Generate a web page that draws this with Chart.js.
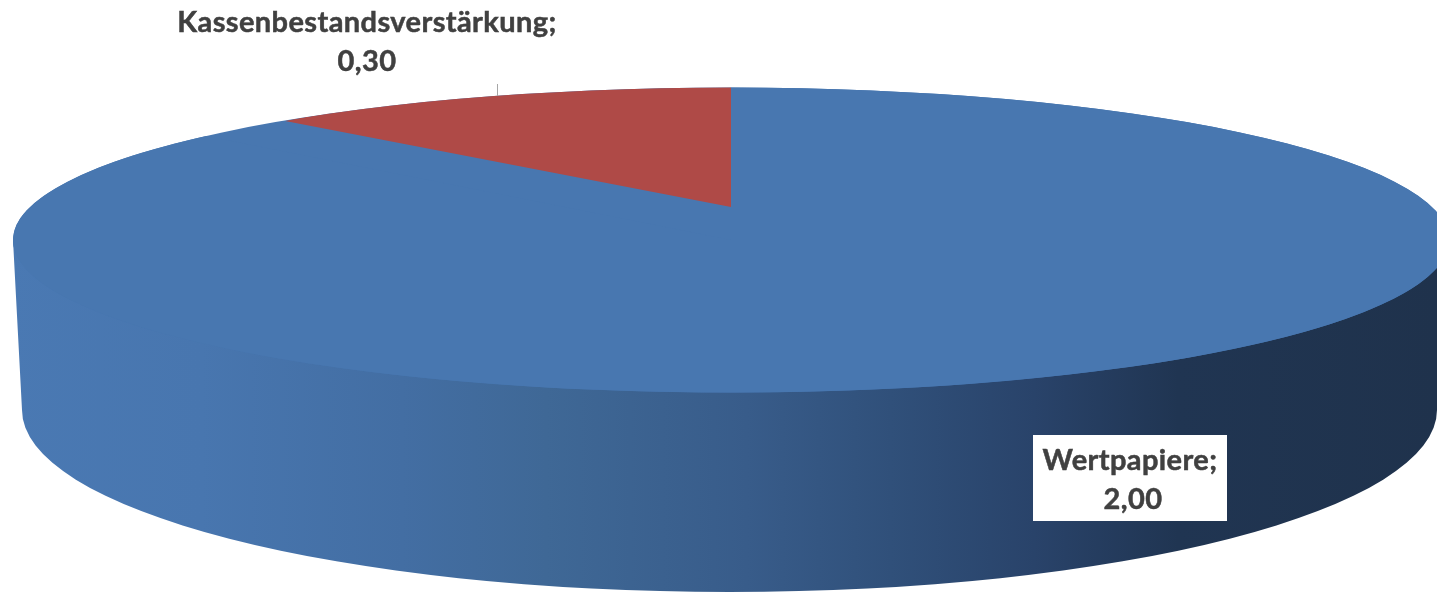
<!DOCTYPE html>
<html lang="de">
<head>
<meta charset="utf-8">
<title>Kreisdiagramm</title>
<script src="https://cdn.jsdelivr.net/npm/chart.js@4"></script>
<style>
  html, body { margin: 0; padding: 0; background: #fff; overflow: hidden; }
  canvas { display: block; }
</style>
</head>
<body>
<canvas id="pieChart" width="1437" height="593"></canvas>
<script>
const categories = ['Wertpapiere', 'Kassenbestandsverstärkung'];
const values = [2.00, 0.30];
const sliceColors = ['#4877B0', '#AF4A47'];

// top face of the disc, seen in perspective
const topFace = { x: 731, y: 240, rx: 718, ry: 152.5 };
const bottomFace = { x: 729.5, y: 410, rx: 707.5, ry: 182 };
// the slices meet here, not in the middle of the ellipse
const apex = { x: 731, y: 207 };

const wallStops = [
  [0, '#4A79B3'], [0.14, '#4876AF'], [0.28, '#436EA3'], [0.38, '#3F6896'],
  [0.52, '#385C8A'], [0.62, '#30507A'], [0.72, '#29436A'], [0.82, '#203552'], [1, '#1F324C']
];

const labelFont = 'bold 29px Lato, "Open Sans", sans-serif';

function formatValue(v) {
  return v.toFixed(2).replace('.', ',');
}

function topFacePath(ctx) {
  ctx.beginPath();
  ctx.ellipse(topFace.x, topFace.y, topFace.rx, topFace.ry, 0, 0, Math.PI * 2);
}

function drawWall(ctx) {
  const grad = ctx.createLinearGradient(0, 0, 1437, 0);
  wallStops.forEach(s => grad.addColorStop(s[0], s[1]));
  ctx.fillStyle = grad;
  ctx.beginPath();
  ctx.moveTo(topFace.x - topFace.rx, topFace.y);
  ctx.lineTo(bottomFace.x - bottomFace.rx, bottomFace.y);
  ctx.ellipse(bottomFace.x, bottomFace.y, bottomFace.rx, bottomFace.ry, 0, Math.PI, 0, true);
  ctx.lineTo(topFace.x + topFace.rx, topFace.y);
  ctx.closePath();
  ctx.fill();
}

function drawLabel(ctx, text, x, y) {
  ctx.strokeText(text, x, y);
  ctx.fillText(text, x, y);
}

const disc3d = {
  id: 'disc3d',
  beforeDatasetDraw(chart) {
    const ctx = chart.ctx;
    const [blue, red] = chart.getDatasetMeta(0).data;
    const R = blue.outerRadius;

    ctx.save();
    drawWall(ctx);
    topFacePath(ctx);
    ctx.fillStyle = sliceColors[0];
    ctx.fill();

    // big slice squeezed onto the ellipse
    ctx.save();
    ctx.transform(topFace.rx / R, 0, 0, topFace.ry / R, topFace.x, topFace.y);
    ctx.translate(-blue.x, -blue.y);
    blue.draw(ctx);
    ctx.restore();

    // small slice: own skew so that it starts at the apex
    ctx.save();
    topFacePath(ctx);
    ctx.clip();
    ctx.transform(610 / R, 5.7 / R, 0, 120 / R, apex.x, apex.y);
    ctx.translate(-red.x, -red.y);
    red.draw(ctx);
    ctx.restore();
    ctx.restore();
    return false;
  },
  afterDraw(chart) {
    const ctx = chart.ctx;
    ctx.save();

    // leader line
    ctx.strokeStyle = '#A6A6A6';
    ctx.lineWidth = 1;
    ctx.beginPath();
    ctx.moveTo(497.5, 84);
    ctx.lineTo(497.5, 96);
    ctx.stroke();

    // box behind the label on the wall
    ctx.fillStyle = '#FFFFFF';
    ctx.fillRect(1033, 435, 194, 86);

    ctx.font = labelFont;
    ctx.letterSpacing = '0.4px';
    ctx.fillStyle = '#404040';
    ctx.strokeStyle = '#404040';
    ctx.lineWidth = 0.5;
    ctx.textAlign = 'center';
    ctx.textBaseline = 'alphabetic';
    drawLabel(ctx, categories[1] + ';', 367, 32);
    drawLabel(ctx, formatValue(values[1]), 367, 71);
    drawLabel(ctx, categories[0] + ';', 1130, 470);
    drawLabel(ctx, formatValue(values[0]), 1133, 509);
    ctx.restore();
  }
};

new Chart(document.getElementById('pieChart').getContext('2d'), {
  type: 'pie',
  data: {
    labels: categories,
    datasets: [{
      data: values,
      backgroundColor: sliceColors,
      borderWidth: 0
    }]
  },
  options: {
    responsive: false,
    animation: false,
    layout: { padding: 0 },
    plugins: {
      legend: { display: false },
      tooltip: { enabled: false }
    }
  },
  plugins: [disc3d]
});
</script>
</body>
</html>
